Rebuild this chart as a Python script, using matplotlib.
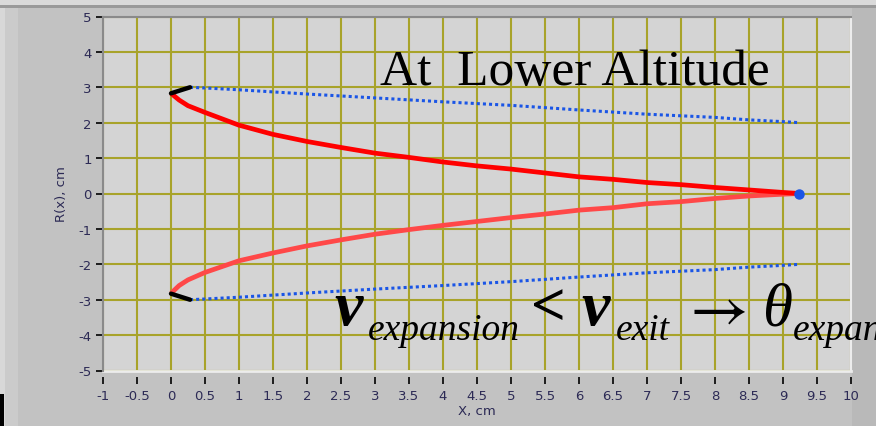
import matplotlib
matplotlib.use("Agg")
from matplotlib import pyplot as plt
from matplotlib.patches import Rectangle

# plume boundary, upper and lower branch (cm)
x_plume = [0, 0.12, 0.25, 0.5, 1, 1.5, 2, 2.5, 3, 3.5, 4, 4.5, 5, 5.5, 6, 6.5, 7, 7.5, 8, 8.5, 9, 9.24]
r_plume_up = [2.83, 2.64, 2.48, 2.29, 1.93, 1.67, 1.47, 1.30, 1.14, 1.02, 0.89, 0.78, 0.69, 0.58, 0.47, 0.40, 0.31, 0.25, 0.17, 0.10, 0.03, 0.0]
r_plume_lo = [-2.82, -2.60, -2.44, -2.23, -1.90, -1.68, -1.48, -1.31, -1.15, -1.02, -0.90, -0.79, -0.68, -0.58, -0.47, -0.40, -0.29, -0.23, -0.14, -0.07, -0.02, 0.0]

# nozzle lip
x_lip = [0, 0.28]
r_lip_up = [2.83, 3.0]
r_lip_lo = [-2.83, -3.0]

# jet boundary
x_jet = [0.28, 0.5, 1, 2, 3, 4, 5, 6, 7, 8, 8.5, 9, 9.25]
r_jet_up = [3.0, 2.98, 2.93, 2.81, 2.70, 2.59, 2.49, 2.36, 2.24, 2.15, 2.08, 2.03, 2.0]
r_jet_lo = [-3.0, -2.98, -2.93, -2.81, -2.70, -2.60, -2.49, -2.36, -2.24, -2.15, -2.08, -2.03, -2.0]

x_tip = [9.24]
r_tip = [0.0]

x_ticks = [-1, -0.5, 0, 0.5, 1, 1.5, 2, 2.5, 3, 3.5, 4, 4.5, 5, 5.5, 6, 6.5, 7, 7.5, 8, 8.5, 9, 9.5, 10]
x_ticklabels = ["-1", "-0.5", "0", "0.5", "1", "1.5", "2", "2.5", "3", "3.5", "4", "4.5", "5",
                "5.5", "6", "6.5", "7", "7.5", "8", "8.5", "9", "9.5", "10"]
y_ticks = [-5, -4, -3, -2, -1, 0, 1, 2, 3, 4, 5]

plt.rcParams["axes.unicode_minus"] = False
plt.rcParams["mathtext.fontset"] = "stix"
label_col = "#2c2a55"
grid_col = "#a8a32a"
serif = "Liberation Serif"

fig = plt.figure(figsize=(8.76, 4.27), dpi=100, facecolor="#c2c2c2")

# panel frame, kept behind the axes
def frame_rect(x, y, w, h, col):
    fig.patches.append(Rectangle((x, y), w, h, transform=fig.transFigure,
                                 facecolor=col, edgecolor="none", zorder=-5))

frame_rect(0, 0.985, 1, 0.015, "#dadada")
frame_rect(0, 0.978, 1, 0.007, "#9a9a9a")
frame_rect(0, 0, 0.006, 0.978, "#d8d8d8")
frame_rect(0.006, 0, 0.014, 0.978, "#cbcbcb")
frame_rect(0.973, 0, 0.027, 0.978, "#b9b9b9")
frame_rect(0, 0, 0.004, 0.075, "black")

ax = fig.add_axes([103 / 876, (427 - 371.5) / 427, 748 / 876, 354 / 427])
ax.set_facecolor("#d4d4d4")
ax.set_xlim(-1, 10)
ax.set_ylim(-5, 5)
ax.set_xticks(x_ticks)
ax.set_xticklabels(x_ticklabels)
ax.set_yticks(y_ticks)
ax.grid(True, color=grid_col, linewidth=1.5)
ax.set_axisbelow(True)

for side in ["top", "left"]:
    ax.spines[side].set_color("#8a8a8a")
    ax.spines[side].set_linewidth(1.5)
ax.spines["right"].set_color("#ececec")
ax.spines["right"].set_linewidth(1.5)
ax.spines["bottom"].set_position(("outward", 5))
ax.spines["bottom"].set_visible(False)
ax.plot([0, 1], [0, 0], transform=ax.transAxes, color="#ececec", lw=2, clip_on=False)

ax.tick_params(axis="both", colors="black", labelcolor=label_col, labelsize=9.5, length=5, width=1.2)
ax.tick_params(axis="x", pad=3)
ax.tick_params(axis="y", pad=3)
ax.set_xlabel("X, cm", color=label_col, fontsize=9.5, labelpad=2)
ax.set_ylabel("R(x), cm", color=label_col, fontsize=9.5, labelpad=8)

ax.plot(x_jet, r_jet_up, color="#1a55e6", lw=2.2, linestyle=(0, (1, 1)), dash_capstyle="butt")
ax.plot(x_jet, r_jet_lo, color="#1a55e6", lw=2.2, linestyle=(0, (1, 1)), dash_capstyle="butt")
ax.plot(x_plume, r_plume_lo, color="#ff4848", lw=3.4, solid_capstyle="butt")
ax.plot(x_plume, r_plume_up, color="#ff0000", lw=3.4, solid_capstyle="butt")
ax.plot(x_lip, r_lip_up, color="black", lw=3.2, solid_capstyle="round")
ax.plot(x_lip, r_lip_lo, color="black", lw=3.2, solid_capstyle="round")
ax.plot(x_tip, r_tip, "o", color="#1a55e6", markersize=6.5)

ax.text(3.07, 3.10, "At  Lower Altitude", family=serif, fontsize=37, color="black")

# nu_expansion < nu_exit -> theta_expansion, set piece by piece
nu = dict(family=serif, style="italic", weight="bold", fontsize=46, color="black", clip_on=False)
theta = dict(family=serif, style="italic", fontsize=44, color="black", clip_on=False)
sub = dict(family=serif, style="italic", fontsize=27, color="black", clip_on=False)
ax.text(2.40, -3.69, "ν", **nu)
ax.text(2.90, -4.12, "expansion", **sub)
ax.text(5.30, -3.69, "<", family=serif, weight="bold", fontsize=44, color="black", clip_on=False)
ax.text(6.04, -3.69, "ν", **nu)
ax.text(6.54, -4.12, "exit", **sub)
ax.text(7.48, -3.72, r"$\rightarrow$", fontsize=46, color="black", clip_on=False)
ax.text(8.69, -3.69, "θ", **theta)
ax.text(9.15, -4.12, "expansion", **sub)

fig.savefig("out.png", dpi=100, facecolor=fig.get_facecolor())
